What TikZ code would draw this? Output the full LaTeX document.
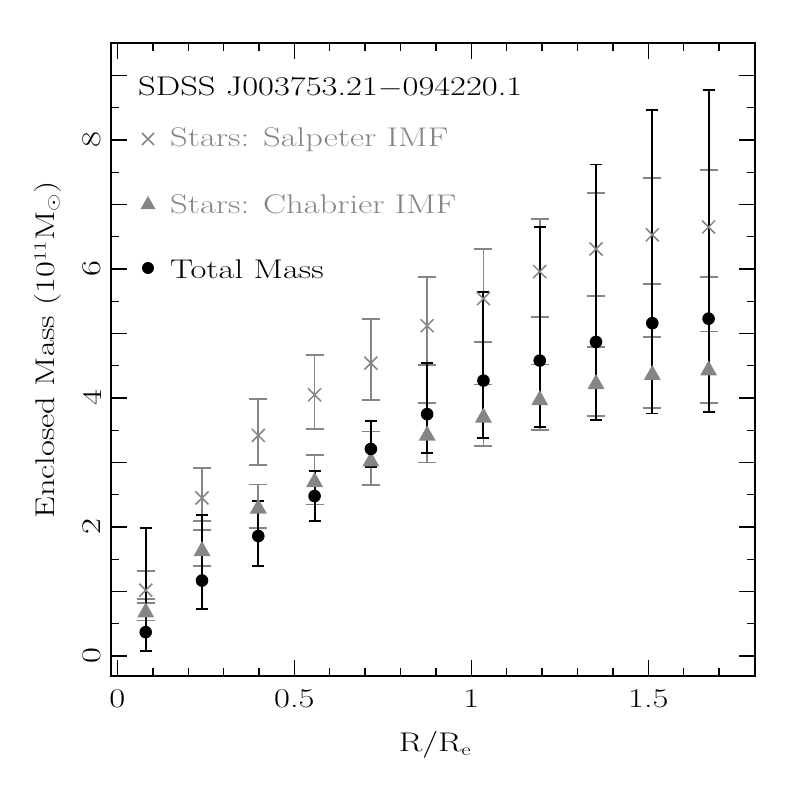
\documentclass[tikz,border=0pt]{standalone}
\usepackage{tikz}
\definecolor{gr}{HTML}{858585}
\newcommand{\W}[1]{\scalebox{1.28}[1]{#1}}
\begin{document}
\begin{tikzpicture}[x=1pt,y=-1pt,
  lbl/.style={inner sep=0pt,font=\fontsize{27}{30}\selectfont},
  gbar/.style={gr,line width=1.8pt},
  kbar/.style={black,line width=1.9pt}]
\useasboundingbox (0,0) rectangle (797,797);
\begin{scope}[shift={(117.4,656)},x=354pt,y=64.5pt]
 % frame
 \draw[line width=1.8pt] (-0.0186,-0.31) rectangle (1.8,9.5);
 \foreach \t in {0.1,0.2,...,1.75}{
   \draw[line width=1.4pt] (\t,-0.31) -- ++(0,8pt) (\t,9.5) -- ++(0,-8pt);}
 \foreach \t in {0,0.5,1,1.5}{
   \draw[line width=1.4pt] (\t,-0.31) -- ++(0,16pt) (\t,9.5) -- ++(0,-16pt);}
 \foreach \t in {0,0.5,...,9}{
   \draw[line width=1.4pt] (-0.0186,\t) -- ++(8pt,0) (1.8,\t) -- ++(-8pt,0);}
 \foreach \t in {0,1,...,9}{
   \draw[line width=1.4pt] (-0.0186,\t) -- ++(16pt,0) (1.8,\t) -- ++(-16pt,0);}
 % data: x / value / lo / hi
 \def\salp{0.08/1.02/0.82/1.32, 0.239/2.45/1.95/2.92, 0.398/3.42/2.96/3.98, 0.557/4.05/3.52/4.67, 0.716/4.54/3.97/5.22, 0.875/5.12/4.51/5.87, 1.034/5.54/4.87/6.31, 1.193/5.96/5.25/6.78, 1.352/6.31/5.58/7.18, 1.511/6.53/5.77/7.41, 1.67/6.65/5.88/7.53}
 \def\chab{0.08/0.70/0.55/0.88, 0.239/1.65/1.40/2.09, 0.398/2.31/1.98/2.66, 0.557/2.72/2.35/3.12, 0.716/3.04/2.65/3.48, 0.875/3.44/3.00/3.92, 1.034/3.72/3.26/4.21, 1.193/3.99/3.50/4.52, 1.352/4.24/3.72/4.79, 1.511/4.38/3.85/4.94, 1.67/4.45/3.92/5.03}
 \def\tot{0.08/0.37/0.08/1.99, 0.239/1.17/0.73/2.18, 0.398/1.86/1.40/2.40, 0.557/2.48/2.09/2.87, 0.716/3.21/2.93/3.64, 0.875/3.75/3.15/4.54, 1.034/4.27/3.38/5.65, 1.193/4.58/3.55/6.65, 1.352/4.87/3.66/7.62, 1.511/5.16/3.76/8.47, 1.67/5.23/3.78/8.78}
 \foreach \x/\v/\l/\h in \salp {
   \draw[gbar] (\x,\l) -- (\x,\h) (\x,\l) ++(-9pt,0) -- ++(18pt,0) (\x,\h) ++(-9pt,0) -- ++(18pt,0);}
 \foreach \x/\v/\l/\h in \chab {
   \draw[gbar] (\x,\l) -- (\x,\h) (\x,\l) ++(-9pt,0) -- ++(18pt,0) (\x,\h) ++(-9pt,0) -- ++(18pt,0);}
 \foreach \x/\v/\l/\h in \tot {
   \draw[kbar] (\x,\l) -- (\x,\h) (\x,\l) ++(-6pt,0) -- ++(12pt,0) (\x,\h) ++(-6pt,0) -- ++(12pt,0);}
 \foreach \x/\v/\l/\h in \chab {
   \fill[gr] (\x,\v) ++(0,8.5pt) -- ++(-8.5pt,-15pt) -- ++(17pt,0) -- cycle;}
 \foreach \x/\v/\l/\h in \salp {
   \draw[gr,line width=1.5pt] (\x,\v) ++(-6.5pt,-6.5pt) -- ++(13pt,13pt) ++(-13pt,0) -- ++(13pt,-13pt);}
 \foreach \x/\v/\l/\h in \tot {
   \fill (\x,\v) circle[radius=6.3pt];}
\end{scope}
% axis labels
\foreach \t/\s/\p in {0/0/117.4,0.5/0.5/294.4,1/1/471.4,1.5/1.5/648.4}
  \node[lbl] (xl\t) at (\p,699) {\W{\s}};
\foreach \t in {0,2,4,6,8}
  \node[lbl,rotate=90] (yl\t) at (92,{656-64.5*\t}) {\W{\t}};
\node[lbl] (xlab) at (435,745) {\W{R/R$_{\mathrm{e}}$}};
\node[lbl,rotate=90] (ylab) at (48,350) {\W{Enclosed Mass (10$^{11}$M$_\odot$)}};
% legend
\node[lbl,anchor=west] (title) at (138,87) {\W{SDSS J003753.21$-$094220.1}};
\draw[gr,line width=1.5pt] (142,133) -- ++(12,12) ++(-12,0) -- ++(12,-12);
\node[lbl,anchor=west,text=gr] (l1) at (170,140) {\W{Stars: Salpeter IMF}};
\fill[gr] (148,196) -- ++(-7.5,13) -- ++(15,0) -- cycle;
\node[lbl,anchor=west,text=gr] (l2) at (170,204) {\W{Stars: Chabrier IMF}};
\fill (148,268) circle[radius=6];
\node[lbl,anchor=west] (l3) at (170,269) {\W{Total Mass}};
\end{tikzpicture}
\end{document}
